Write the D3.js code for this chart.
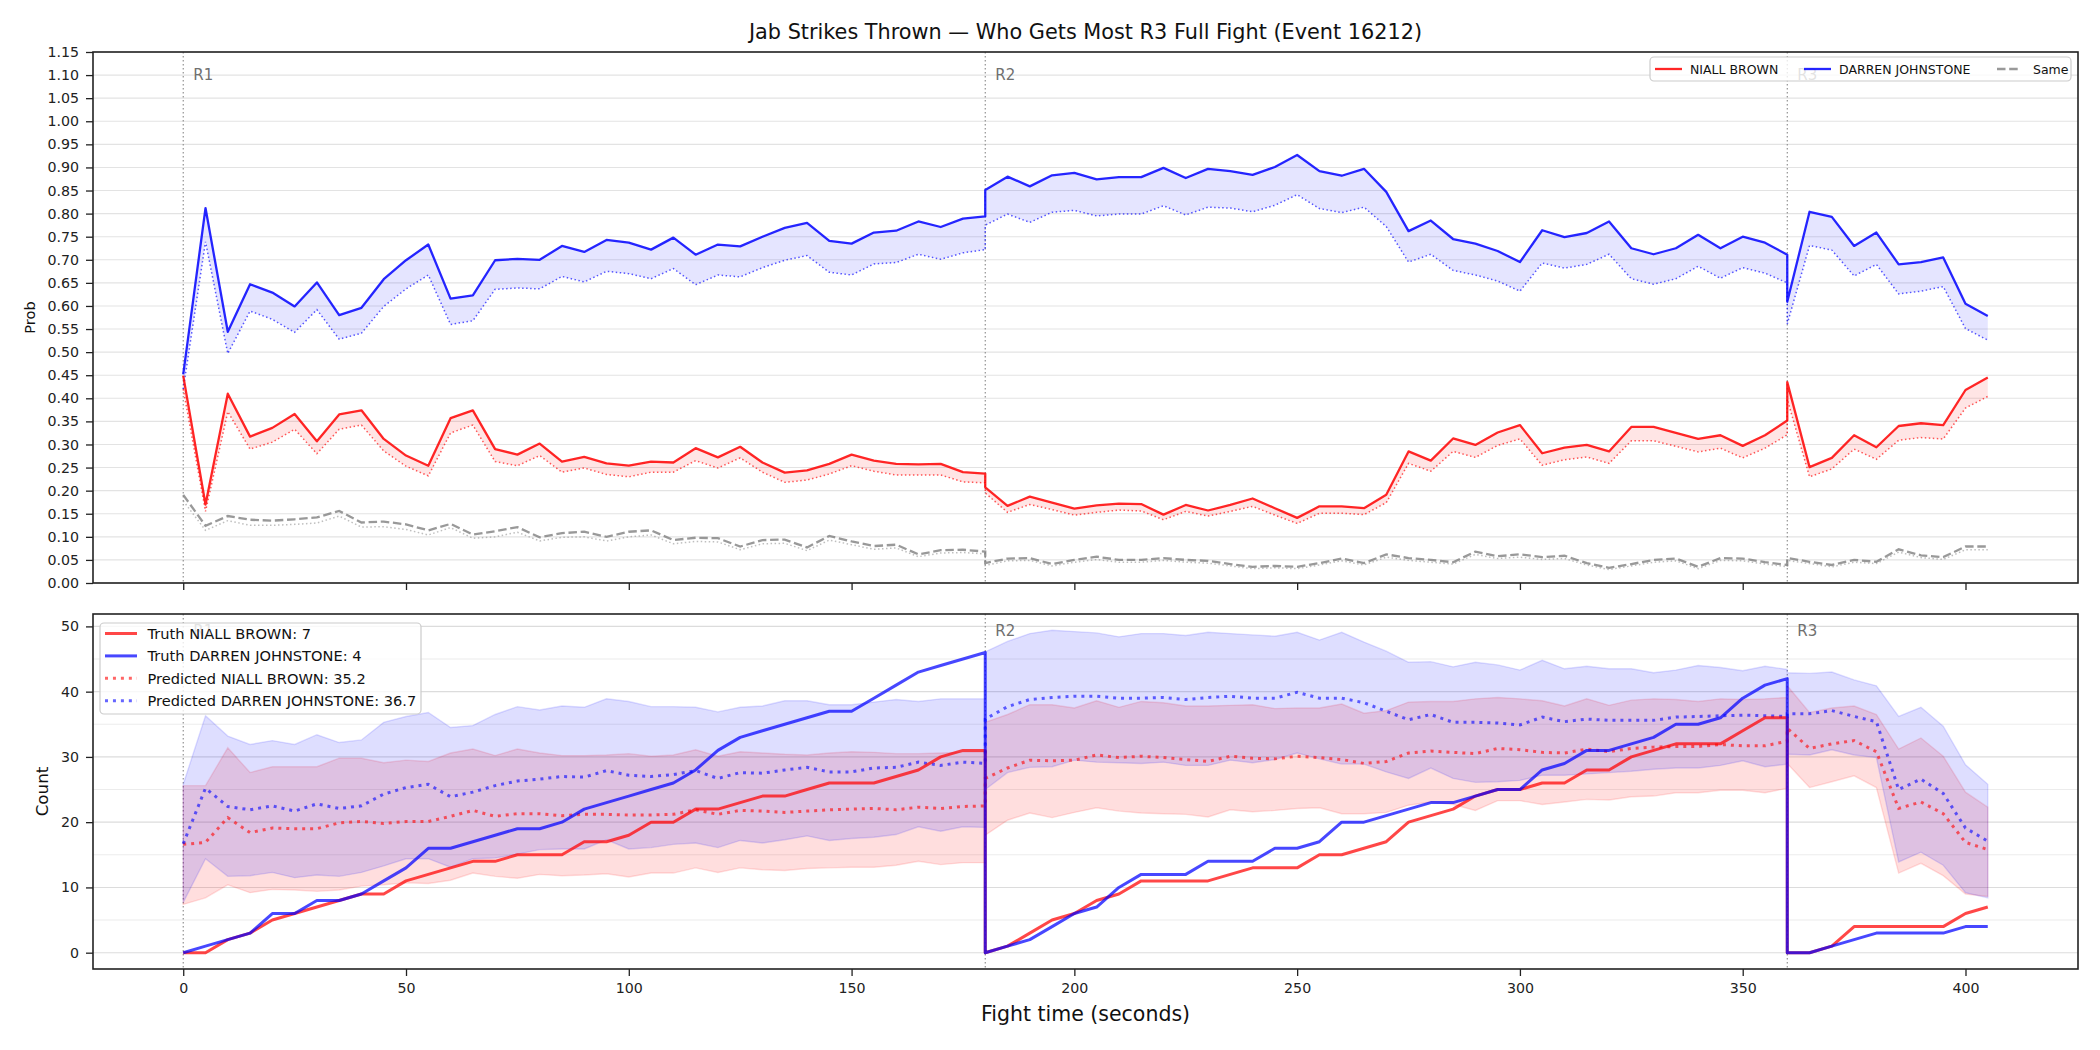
<!DOCTYPE html>
<html>
<head>
<meta charset="utf-8">
<script src="https://cdn.jsdelivr.net/npm/d3@7"></script>
<style>
  body { margin: 0; background: #fff; }
  svg { display: block; font-family: "DejaVu Sans", sans-serif; }
</style>
</head>
<body>
<div id="chart"></div>
<script>
// ---- data ----
const fightTime = [
  0,5,10,15,20,25,30,35,40,45,50,55,60,65,70,75,80,85,90,95,100,105,110,115,120,125,130,135,140,145,150,155,160,165,170,175,180,
  180,185,190,195,200,205,210,215,220,225,230,235,240,245,250,255,260,265,270,275,280,285,290,295,300,305,310,315,320,325,330,335,340,345,350,355,360,
  360,365,370,375,380,385,390,395,400,405
];
const roundStarts = [0, 180, 360];
const roundLabels = ["R1", "R2", "R3"];

// top panel: probability that each fighter gets most jabs in R3
const probDarren = [
  0.452,0.812,0.544,0.647,0.629,0.599,0.651,0.580,0.596,0.658,0.699,0.733,0.616,0.623,0.699,0.702,0.700,0.730,0.717,0.743,0.737,0.722,
  0.748,0.711,0.733,0.729,0.750,0.769,0.780,0.741,0.735,0.759,0.763,0.783,0.771,0.789,0.794,
  0.851,0.880,0.859,0.883,0.888,0.874,0.879,0.879,0.899,0.877,0.897,0.892,0.884,0.901,0.927,0.892,0.882,0.897,0.847,
  0.762,0.785,0.745,0.735,0.719,0.695,0.764,0.749,0.758,0.783,0.725,0.712,0.725,0.754,0.725,0.750,0.737,0.711,
  0.609,0.804,0.793,0.730,0.759,0.690,0.695,0.705,0.605,0.578
];
const probDarrenLow = [
  0.420,0.739,0.497,0.589,0.571,0.543,0.592,0.528,0.541,0.599,0.637,0.667,0.560,0.568,0.636,0.639,0.637,0.664,0.652,0.675,0.670,0.659,
  0.681,0.646,0.667,0.663,0.683,0.699,0.709,0.673,0.667,0.691,0.694,0.712,0.701,0.715,0.722,
  0.775,0.799,0.781,0.803,0.807,0.795,0.799,0.799,0.817,0.797,0.814,0.812,0.804,0.818,0.841,0.811,0.802,0.814,0.772,
  0.695,0.712,0.677,0.667,0.654,0.632,0.693,0.682,0.690,0.712,0.659,0.647,0.659,0.686,0.660,0.683,0.671,0.650,
  0.561,0.731,0.721,0.665,0.690,0.626,0.632,0.642,0.551,0.526
];
const probNiall = [
  0.449,0.170,0.410,0.317,0.336,0.366,0.307,0.365,0.374,0.312,0.276,0.254,0.357,0.374,0.290,0.278,0.302,0.263,0.273,0.259,0.254,0.263,
  0.261,0.292,0.272,0.295,0.261,0.239,0.244,0.258,0.278,0.265,0.258,0.257,0.258,0.240,0.237,
  0.207,0.167,0.187,0.174,0.161,0.168,0.172,0.171,0.148,0.169,0.157,0.169,0.183,0.162,0.141,0.166,0.166,0.162,0.191,
  0.285,0.265,0.313,0.299,0.326,0.342,0.281,0.293,0.299,0.285,0.338,0.338,0.325,0.312,0.320,0.297,0.320,0.352,
  0.435,0.251,0.271,0.320,0.294,0.340,0.346,0.342,0.418,0.445
];
const probNiallLow = [
  0.420,0.155,0.371,0.290,0.305,0.333,0.280,0.333,0.342,0.286,0.253,0.232,0.325,0.342,0.263,0.254,0.276,0.240,0.249,0.235,0.230,0.240,
  0.240,0.265,0.249,0.271,0.240,0.218,0.223,0.236,0.254,0.242,0.234,0.234,0.234,0.219,0.217,
  0.195,0.153,0.170,0.159,0.147,0.153,0.158,0.156,0.137,0.155,0.145,0.155,0.166,0.147,0.129,0.151,0.151,0.148,0.174,
  0.259,0.242,0.285,0.272,0.298,0.312,0.255,0.267,0.273,0.259,0.308,0.308,0.296,0.284,0.292,0.271,0.292,0.321,
  0.398,0.230,0.247,0.290,0.268,0.309,0.315,0.312,0.379,0.404
];
const probSame = [
  0.191,0.124,0.145,0.137,0.135,0.138,0.142,0.156,0.131,0.133,0.127,0.114,0.128,0.105,0.112,0.121,0.099,0.108,0.111,0.100,0.111,0.114,
  0.093,0.098,0.097,0.079,0.093,0.094,0.077,0.102,0.090,0.080,0.083,0.062,0.071,0.072,0.068,
  0.043,0.053,0.054,0.041,0.050,0.057,0.050,0.050,0.054,0.050,0.048,0.041,0.035,0.037,0.035,0.043,0.053,0.043,0.062,
  0.054,0.050,0.045,0.068,0.058,0.062,0.056,0.059,0.043,0.033,0.041,0.050,0.053,0.035,0.054,0.053,0.045,0.039,
  0.054,0.046,0.039,0.050,0.046,0.073,0.060,0.056,0.079,0.079
];
const probSameLow = [
  0.178,0.114,0.135,0.125,0.125,0.127,0.130,0.145,0.121,0.122,0.116,0.104,0.120,0.097,0.100,0.110,0.091,0.099,0.100,0.091,0.100,0.104,
  0.085,0.090,0.089,0.072,0.085,0.086,0.070,0.093,0.083,0.073,0.076,0.057,0.065,0.066,0.063,
  0.038,0.048,0.049,0.037,0.045,0.051,0.045,0.045,0.049,0.045,0.043,0.037,0.031,0.033,0.031,0.039,0.048,0.039,0.056,
  0.049,0.045,0.041,0.062,0.053,0.056,0.051,0.053,0.039,0.029,0.037,0.045,0.048,0.031,0.049,0.048,0.041,0.035,
  0.049,0.042,0.035,0.045,0.042,0.067,0.055,0.051,0.072,0.072
];

// bottom panel: cumulative jab counts per round
const truthNiall = [
  0,0,2,3,5,6,7,8,9,9,11,12,13,14,14,15,15,15,17,17,18,20,20,22,22,23,24,24,25,26,26,26,27,28,30,31,31,
  0,1,3,5,6,8,9,11,11,11,11,12,13,13,13,15,15,16,17,20,21,22,24,25,25,26,26,28,28,30,31,32,32,32,34,36,36,
  0,0,1,4,4,4,4,4,6,7
];
const truthDarren = [
  0,1,2,3,6,6,8,8,9,11,13,16,16,17,18,19,19,20,22,23,24,25,26,28,31,33,34,35,36,37,37,39,41,43,44,45,46,
  0,1,2,4,6,7,10,12,12,12,14,14,14,16,16,17,20,20,21,22,23,23,24,25,25,28,29,31,31,32,33,35,35,36,39,41,42,
  0,0,1,2,3,3,3,3,4,4
];
const predNiall = [
  16.6,16.9,20.7,18.4,19.1,19.0,19.0,19.9,20.1,19.8,20.1,20.1,20.9,21.8,20.9,21.3,21.3,21.0,21.2,21.2,21.1,21.1,
  21.2,21.9,21.2,21.8,21.7,21.5,21.7,21.9,22.0,22.1,21.9,22.3,22.1,22.4,22.5,
  26.7,28.3,29.5,29.4,29.5,30.3,29.9,30.1,29.9,29.6,29.3,30.1,29.8,29.7,30.1,29.9,29.6,29.0,29.3,
  30.6,30.9,30.7,30.5,31.3,31.1,30.7,30.6,31.2,30.8,31.3,31.5,31.6,31.6,31.9,31.7,31.7,32.4,
  34.4,31.3,32.0,32.5,30.8,22.1,23.1,21.3,16.9,15.8
];
const predNiallHigh = [
  25.6,25.6,31.4,27.6,28.5,28.5,28.5,29.8,29.8,29.1,29.5,29.3,30.6,31.2,30.2,31.2,30.6,30.2,30.2,30.3,30.5,30.1,
  30.3,31.1,30.1,30.8,30.6,30.4,30.3,30.6,30.8,30.7,30.5,30.5,30.6,30.7,30.7,
  35.3,36.5,38.0,38.0,37.5,38.6,37.6,38.5,38.3,37.8,37.8,37.9,38.0,37.4,37.5,37.5,38.1,36.7,37.1,
  38.4,38.5,38.5,38.9,39.1,38.9,38.6,37.8,38.9,37.9,38.7,38.9,38.8,38.5,38.9,38.8,38.9,39.1,
  40.9,36.8,37.5,37.8,36.5,31.2,32.9,30.1,24.6,22.3
];
const predNiallLow = [
  7.4,8.4,10.4,9.2,9.7,9.6,9.4,9.6,10.2,10.4,10.7,10.6,11.1,12.2,11.7,11.4,12.0,11.8,11.9,12.1,11.6,12.2,
  12.2,13.0,12.3,13.0,12.7,12.6,12.9,13.0,13.1,13.1,13.4,14.0,13.5,13.8,13.8,
  18.0,20.3,21.4,20.7,21.5,22.2,21.7,21.4,21.3,21.2,20.8,21.9,21.6,21.8,22.1,22.2,21.3,21.3,21.5,
  22.6,23.1,22.7,21.8,23.3,23.3,22.7,23.1,23.5,23.4,23.9,24.0,24.5,24.5,24.9,24.9,24.5,25.2,
  29.0,25.3,26.2,27.1,25.3,12.2,13.7,11.8,9.0,8.6
];
const predDarren = [
  16.7,25.2,22.4,21.9,22.5,21.7,22.8,22.1,22.5,24.3,25.3,25.8,23.9,24.6,25.6,26.3,26.6,27.0,26.9,27.9,27.2,27.0,
  27.3,27.9,26.7,27.6,27.5,28.0,28.4,27.7,27.7,28.3,28.4,29.2,28.7,29.2,29.0,
  35.8,37.7,38.8,39.1,39.3,39.3,39.0,39.0,39.1,38.8,39.1,39.3,39.0,39.0,39.9,39.0,39.0,38.3,37.0,
  35.7,36.5,35.3,35.3,35.2,34.9,36.1,35.4,35.8,35.6,35.6,35.6,36.1,36.2,36.3,36.4,36.3,36.2,
  36.6,36.6,37.1,36.2,35.4,25.0,26.6,24.4,19.1,17.1
];
const predDarrenHigh = [
  25.8,36.3,33.2,31.9,32.5,31.9,33.4,32.2,32.6,35.3,36.2,36.8,34.5,34.8,36.5,37.7,37.2,37.8,37.6,38.9,38.5,37.7,
  37.7,37.6,36.9,37.6,37.8,38.6,38.6,38.0,38.0,38.4,38.8,38.5,38.9,38.9,38.9,
  46.1,47.7,48.9,49.4,49.2,49.0,48.4,48.9,48.9,48.6,49.1,48.9,48.7,48.5,49.1,47.9,49.1,47.6,46.2,
  44.5,44.6,43.8,44.5,44.1,43.3,44.8,43.5,43.9,43.5,43.5,42.9,43.3,44.0,43.7,43.2,43.9,43.4,
  42.9,42.8,43.0,41.8,40.9,36.2,37.6,34.7,28.8,25.8
];
const predDarrenLow = [
  7.7,14.4,11.7,11.8,12.3,11.5,11.9,11.7,12.3,13.3,14.4,14.4,13.1,14.4,14.5,15.1,15.8,15.9,15.9,17.3,15.9,16.1,
  16.6,16.8,16.1,17.2,16.8,17.3,17.9,17.2,17.5,17.7,18.1,19.3,18.6,19.3,19.2,
  25.0,27.6,28.4,28.5,29.5,29.2,29.1,29.0,29.2,28.7,28.7,29.5,29.1,29.6,30.6,29.7,28.9,28.9,27.7,
  26.7,28.3,26.7,26.1,26.2,26.4,27.2,27.2,27.4,27.6,27.8,28.1,28.3,28.3,28.7,29.4,28.5,28.9,
  30.4,30.3,31.1,30.3,29.9,13.9,15.4,13.4,9.2,8.4
];

// ticks
const timeTicks = [0, 50, 100, 150, 200, 250, 300, 350, 400];
const probTicks = [0,0.05,0.1,0.15,0.2,0.25,0.3,0.35,0.4,0.45,0.5,0.55,0.6,0.65,0.7,0.75,0.8,0.85,0.9,0.95,1.0,1.05,1.1,1.15];
const countTicks = [0, 10, 20, 30, 40, 50];
const countMinor = [5, 15, 25, 35, 45];

const legendTop = ["NIALL BROWN", "DARREN JOHNSTONE", "Same"];
const legendBottom = [
  "Truth NIALL BROWN: 7",
  "Truth DARREN JOHNSTONE: 4",
  "Predicted NIALL BROWN: 35.2",
  "Predicted DARREN JOHNSTONE: 36.7"
];

// ---- layout ----
const W = 2100, H = 1050;
const left = 93, right = 2078;
const p1 = { top: 52, bottom: 583 };
const p2 = { top: 614, bottom: 969 };
const RED = "#ff0000", BLUE = "#0000ff", GRAY = "#808080";

const svg = d3.select("#chart").append("svg")
  .attr("width", W).attr("height", H);
svg.append("rect").attr("width", W).attr("height", H).attr("fill", "#fff");

const x = d3.scaleLinear().domain([-20.25, 425.25]).range([left, right]);
const yP = d3.scaleLinear().domain([0, 1.15]).range([p1.bottom, p1.top]);
const yC = d3.scaleLinear().domain([-2.5, 51.9]).range([p2.bottom, p2.top]);

const idx = fightTime.map((_, i) => i);

function line(y, arr) {
  return d3.line().x(i => x(fightTime[i])).y(i => y(arr[i]))(idx);
}
function band(y, lo, hi) {
  return d3.area().x(i => x(fightTime[i])).y0(i => y(lo[i])).y1(i => y(hi[i]))(idx);
}

function styleAxis(g, size) {
  g.attr("font-family", null).attr("font-size", null);
  g.select(".domain").remove();
  g.selectAll(".tick line").attr("stroke", "#222").attr("stroke-width", 1.3);
  g.selectAll(".tick text").attr("fill", "#222").style("font-size", size + "px");
}

function roundMarks(y0, y1) {
  roundStarts.forEach((t, k) => {
    svg.append("line")
      .attr("x1", x(t)).attr("x2", x(t)).attr("y1", y0).attr("y2", y1)
      .attr("stroke", "#888").attr("stroke-width", 1.1)
      .attr("stroke-dasharray", "1.5,2.5");
    svg.append("text")
      .attr("x", x(t) + 10).attr("y", y0 + 0.032 * (y1 - y0) + 11)
      .attr("fill", "#707070").style("font-size", "15px")
      .text(roundLabels[k]);
  });
}

// ---- title ----
svg.append("text")
  .attr("x", (left + right) / 2).attr("y", 39)
  .attr("text-anchor", "middle").style("font-size", "20.8px").attr("fill", "#111")
  .text("Jab Strikes Thrown \u2014 Who Gets Most R3 Full Fight (Event 16212)");

// ---- top panel ----
probTicks.forEach(v => {
  svg.append("line").attr("x1", left).attr("x2", right)
    .attr("y1", yP(v)).attr("y2", yP(v))
    .attr("stroke", "#e3e3e3").attr("stroke-width", 1.1);
});

svg.append("g").attr("transform", `translate(${left},0)`)
  .call(d3.axisLeft(yP).tickValues(probTicks).tickFormat(d3.format(".2f")).tickSize(7).tickPadding(7))
  .call(g => styleAxis(g, 14.2));
svg.append("g").attr("transform", `translate(0,${p1.bottom})`)
  .call(d3.axisBottom(x).tickValues(timeTicks).tickFormat("").tickSize(7))
  .call(g => styleAxis(g, 14.2));

roundMarks(p1.top, p1.bottom);

svg.append("path").attr("d", band(yP, probDarrenLow, probDarren))
  .attr("fill", BLUE).attr("fill-opacity", 0.1);
svg.append("path").attr("d", band(yP, probNiallLow, probNiall))
  .attr("fill", RED).attr("fill-opacity", 0.1);

const dottedTop = { "stroke-width": 1.5, "stroke-dasharray": "1.5,2.5", fill: "none" };
[[probDarrenLow, BLUE, 0.65], [probNiallLow, RED, 0.65], [probSameLow, GRAY, 0.5]].forEach(([arr, c, o]) => {
  const p = svg.append("path").attr("d", line(yP, arr)).attr("stroke", c).attr("stroke-opacity", o);
  Object.entries(dottedTop).forEach(([k, v]) => p.attr(k, v));
});
svg.append("path").attr("d", line(yP, probSame)).attr("fill", "none")
  .attr("stroke", GRAY).attr("stroke-opacity", 0.8).attr("stroke-width", 2.3)
  .attr("stroke-dasharray", "8.5,3.7");
svg.append("path").attr("d", line(yP, probNiall)).attr("fill", "none")
  .attr("stroke", RED).attr("stroke-opacity", 0.85).attr("stroke-width", 2.3).attr("stroke-linejoin", "round");
svg.append("path").attr("d", line(yP, probDarren)).attr("fill", "none")
  .attr("stroke", BLUE).attr("stroke-opacity", 0.85).attr("stroke-width", 2.3).attr("stroke-linejoin", "round");

svg.append("rect").attr("x", left).attr("y", p1.top)
  .attr("width", right - left).attr("height", p1.bottom - p1.top)
  .attr("fill", "none").attr("stroke", "#222").attr("stroke-width", 1.6);

svg.append("text").attr("transform", `translate(35,${(p1.top + p1.bottom) / 2}) rotate(-90)`)
  .attr("text-anchor", "middle").style("font-size", "14.6px").attr("fill", "#111").text("Prob");

// top legend
const lgT = svg.append("g");
lgT.append("rect").attr("x", 1650).attr("y", 57).attr("width", 421).attr("height", 24).attr("rx", 4)
  .attr("fill", "#fff").attr("fill-opacity", 0.8).attr("stroke", "#cccccc").attr("stroke-width", 1.2);
const topItems = [
  { x: 1655, len: 27, c: RED, o: 0.85, dash: null, tx: 1690 },
  { x: 1804, len: 27, c: BLUE, o: 0.85, dash: null, tx: 1839 },
  { x: 1997, len: 21, c: GRAY, o: 0.8, dash: "8.5,3.7", tx: 2033 }
];
topItems.forEach((d, k) => {
  lgT.append("line").attr("x1", d.x).attr("x2", d.x + d.len).attr("y1", 69).attr("y2", 69)
    .attr("stroke", d.c).attr("stroke-opacity", d.o).attr("stroke-width", 2.3)
    .attr("stroke-dasharray", d.dash);
  lgT.append("text").attr("x", d.tx).attr("y", 73.5).style("font-size", "12.5px").attr("fill", "#111")
    .text(legendTop[k]);
});

// ---- bottom panel ----
countMinor.forEach(v => {
  svg.append("line").attr("x1", left).attr("x2", right)
    .attr("y1", yC(v)).attr("y2", yC(v))
    .attr("stroke", "#ececec").attr("stroke-width", 1.1);
});
countTicks.forEach(v => {
  svg.append("line").attr("x1", left).attr("x2", right)
    .attr("y1", yC(v)).attr("y2", yC(v))
    .attr("stroke", "#dcdcdc").attr("stroke-width", 1.1);
});

svg.append("g").attr("transform", `translate(${left},0)`)
  .call(d3.axisLeft(yC).tickValues(countTicks).tickSize(7).tickPadding(7))
  .call(g => styleAxis(g, 14.2));
svg.append("g").attr("transform", `translate(0,${p2.bottom})`)
  .call(d3.axisBottom(x).tickValues(timeTicks).tickSize(7).tickPadding(7))
  .call(g => styleAxis(g, 14.2));

roundMarks(p2.top, p2.bottom);

svg.append("path").attr("d", band(yC, predNiallLow, predNiallHigh))
  .attr("fill", RED).attr("fill-opacity", 0.13)
  .attr("stroke", RED).attr("stroke-opacity", 0.13).attr("stroke-width", 1.4);
svg.append("path").attr("d", band(yC, predDarrenLow, predDarrenHigh))
  .attr("fill", BLUE).attr("fill-opacity", 0.13)
  .attr("stroke", BLUE).attr("stroke-opacity", 0.13).attr("stroke-width", 1.4);

svg.append("path").attr("d", line(yC, predNiall)).attr("fill", "none")
  .attr("stroke", RED).attr("stroke-opacity", 0.6).attr("stroke-width", 3).attr("stroke-dasharray", "3,4.95");
svg.append("path").attr("d", line(yC, predDarren)).attr("fill", "none")
  .attr("stroke", BLUE).attr("stroke-opacity", 0.6).attr("stroke-width", 3).attr("stroke-dasharray", "3,4.95");
svg.append("path").attr("d", line(yC, truthNiall)).attr("fill", "none")
  .attr("stroke", RED).attr("stroke-opacity", 0.72).attr("stroke-width", 3).attr("stroke-linejoin", "round");
svg.append("path").attr("d", line(yC, truthDarren)).attr("fill", "none")
  .attr("stroke", BLUE).attr("stroke-opacity", 0.72).attr("stroke-width", 3).attr("stroke-linejoin", "round");

svg.append("rect").attr("x", left).attr("y", p2.top)
  .attr("width", right - left).attr("height", p2.bottom - p2.top)
  .attr("fill", "none").attr("stroke", "#222").attr("stroke-width", 1.6);

svg.append("text").attr("transform", `translate(48,${(p2.top + p2.bottom) / 2}) rotate(-90)`)
  .attr("text-anchor", "middle").style("font-size", "16.7px").attr("fill", "#111").text("Count");
svg.append("text").attr("x", (left + right) / 2).attr("y", 1021)
  .attr("text-anchor", "middle").style("font-size", "20.5px").attr("fill", "#111")
  .text("Fight time (seconds)");

// bottom legend
const lgB = svg.append("g");
lgB.append("rect").attr("x", 100).attr("y", 623).attr("width", 321).attr("height", 91).attr("rx", 4)
  .attr("fill", "#fff").attr("fill-opacity", 0.8).attr("stroke", "#cccccc").attr("stroke-width", 1.2);
const botItems = [
  { c: RED, o: 0.72, dash: null },
  { c: BLUE, o: 0.72, dash: null },
  { c: RED, o: 0.6, dash: "3,4.95" },
  { c: BLUE, o: 0.6, dash: "3,4.95" }
];
botItems.forEach((d, k) => {
  const yy = 633.5 + k * 22.4;
  lgB.append("line").attr("x1", 105).attr("x2", 137).attr("y1", yy).attr("y2", yy)
    .attr("stroke", d.c).attr("stroke-opacity", d.o).attr("stroke-width", 3)
    .attr("stroke-dasharray", d.dash);
  lgB.append("text").attr("x", 147.5).attr("y", yy + 5.3).style("font-size", "14.6px").attr("fill", "#111")
    .text(legendBottom[k]);
});
</script>
</body>
</html>
